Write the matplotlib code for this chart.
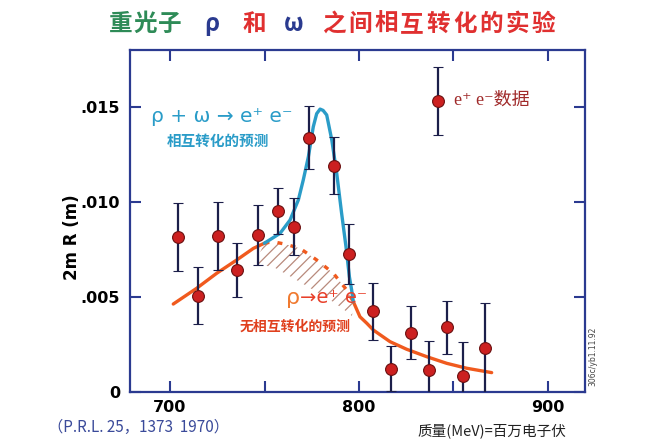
import matplotlib
matplotlib.use("Agg")
import matplotlib.pyplot as plt

plt.rcParams['font.family'] = ['DejaVu Sans', 'Noto Sans CJK SC']
plt.rcParams['hatch.linewidth'] = 0.9

# e+ e- data points: mass (MeV), 2m R (m), error
mass = [704.2, 714.6, 725.2, 735.6, 746.7, 757.3, 765.8, 773.5, 786.6, 794.5,
        807.6, 816.8, 827.5, 836.9, 846.7, 855.0, 866.5]
ratio = [0.00816, 0.00507, 0.00821, 0.00642, 0.00826, 0.00953, 0.00870, 0.01338,
         0.01191, 0.00726, 0.00426, 0.00123, 0.00312, 0.00116, 0.00340, 0.00083, 0.00230]
err = [0.0018, 0.0015, 0.0018, 0.0014, 0.0016, 0.0012, 0.0015, 0.00165, 0.0015,
       0.0016, 0.0015, 0.0012, 0.0014, 0.0015, 0.0014, 0.0018, 0.0024]

# rho -> e+ e- prediction (no mixing)
rho_left_x = [701.7, 714.1, 724.7, 735.3, 744.1, 749.9]
rho_left_y = [0.00463, 0.00546, 0.00625, 0.00695, 0.00756, 0.00783]
rho_mid_x = [749.9, 754.5, 761.0, 768.8, 777.6, 786.4, 793.5, 797.0]
rho_mid_y = [0.00783, 0.00791, 0.00778, 0.00756, 0.00695, 0.00625, 0.00537, 0.00475]
rho_right_x = [797.0, 800.5, 804.1, 807.6, 816.4, 825.2, 835.8, 846.4, 857.0, 870.2]
rho_right_y = [0.00475, 0.00396, 0.00362, 0.00326, 0.00265, 0.00225, 0.00186, 0.00151,
               0.00125, 0.00102]

# lower edge of the hatched band
band_low_x = [745.0, 755.6, 765.1, 777.8, 787.3, 793.7, 796.3]
band_low_y = [0.00679, 0.00653, 0.00600, 0.00526, 0.00468, 0.00421, 0.00400]

# rho + omega interference prediction
mix_x = [749.9, 758.2, 763.5, 767.9, 770.5, 773.2, 775.8, 777.6, 779.4, 781.0, 782.9,
         785.6, 788.2, 790.8, 793.1, 794.9, 796.1, 797.0]
mix_y = [0.00783, 0.00835, 0.00905, 0.01011, 0.01116, 0.01238, 0.01396, 0.01465,
         0.01489, 0.01482, 0.01458, 0.01326, 0.01151, 0.00940, 0.00765, 0.00607,
         0.00537, 0.00475]

legend_pt = (842.0, 0.01532, 0.0018)

xticks = [700, 750, 800, 850, 900]
xlabels = ['700', '', '800', '', '900']
yticks = [0, 0.005, 0.010, 0.015]
ylabels = ['0', '.005', '.010', '.015']

W, H = 654, 445
fig = plt.figure(figsize=(W / 100, H / 100), dpi=100)
ax = fig.add_axes([130 / W, 1 - 392 / H, 455 / W, 342 / H])

axis_col = '#2b3a90'
orange = '#f05a1e'
blue = '#2a9cc8'

# hatched band between no-mixing curve and shifted edge
poly_x = rho_mid_x + band_low_x[::-1]
poly_y = rho_mid_y + band_low_y[::-1]
ax.fill(poly_x, poly_y, facecolor='none', edgecolor='#b88a7c', hatch='///', linewidth=0)

ax.plot(rho_left_x, rho_left_y, color=orange, lw=2.4, solid_capstyle='round')
ax.plot(rho_mid_x, rho_mid_y, color=orange, lw=2.4, linestyle=(0, (1.5, 2.5)))
ax.plot(rho_right_x, rho_right_y, color=orange, lw=2.4, solid_capstyle='round')
ax.plot(mix_x, mix_y, color=blue, lw=2.4, solid_capstyle='round')

ax.errorbar(mass, ratio, yerr=err, fmt='o', color='#1c1f4a', ecolor='#1c1f4a',
            elinewidth=1.6, capsize=3.3, capthick=1.6, markersize=8.5,
            markerfacecolor='#cc2020', markeredgecolor='#6a1010', markeredgewidth=0.8,
            zorder=5)
ax.errorbar([legend_pt[0]], [legend_pt[1]], yerr=[legend_pt[2]], fmt='o', color='#1c1f4a',
            elinewidth=1.6, capsize=3.3, capthick=1.6, markersize=8.5,
            markerfacecolor='#cc2020', markeredgecolor='#6a1010', markeredgewidth=0.8,
            zorder=5)

ax.set_xlim(678.8, 919.6)
ax.set_ylim(0, 0.018)
ax.set_xticks(xticks)
ax.set_xticklabels(xlabels)
ax.set_yticks(yticks)
ax.set_yticklabels(ylabels)
ax.tick_params(axis='both', direction='in', length=8, width=1.5, color=axis_col,
               labelsize=11.5, top=True, right=True)
ax.tick_params(axis='y', pad=7)
ax.tick_params(axis='x', pad=6)
for lab in ax.get_xticklabels() + ax.get_yticklabels():
    lab.set_fontweight('bold')
for sp in ax.spines.values():
    sp.set_color(axis_col)
    sp.set_linewidth(1.6)
ax.set_ylabel('2m R (m)', fontsize=12, fontweight='bold')
ax.yaxis.set_label_coords(-0.108, 0.453)

# annotations inside the plot
ax.text(0.046, 0.805, 'ρ + ω → e⁺ e⁻', transform=ax.transAxes, color=blue,
        fontsize=14.5, va='center')
ax.text(0.080, 0.735, '相互转化的预测', transform=ax.transAxes, color=blue,
        fontsize=10.5, fontweight='bold', va='center', family=['Noto Sans CJK SC'])
ax.text(0.343, 0.276, 'ρ', transform=ax.transAxes, color='#f07a30', fontsize=16, va='center')
ax.text(0.374, 0.276, '→e⁺ e⁻', transform=ax.transAxes, color='#e8402a', fontsize=14,
        va='center')
ax.text(0.240, 0.190, '无相互转化的预测', transform=ax.transAxes, color='#e0401e',
        fontsize=10, fontweight='bold', va='center', family=['Noto Sans CJK SC'])
ax.text(0.712, 0.852, 'e⁺ e⁻数据', transform=ax.transAxes, color='#a02a2a',
        fontsize=13, va='center',
        family=['Liberation Serif', 'DejaVu Serif', 'Noto Sans CJK SC'])

# title, one character at a time
title_chars = [('重', '#2e8b57', 120.5), ('光', '#2e8b57', 145), ('子', '#2e8b57', 169.5),
               ('ρ', '#2a3a8f', 212), ('和', '#e03030', 254), ('ω', '#2a3a8f', 294),
               ('之', '#e03030', 334), ('间', '#e03030', 360), ('相', '#e03030', 386),
               ('互', '#e03030', 412), ('转', '#e03030', 438), ('化', '#e03030', 465),
               ('的', '#e03030', 491), ('实', '#e03030', 517), ('验', '#e03030', 543)]
for ch, col, px in title_chars:
    fig.text(px / W, 1 - 31 / H, ch, color=col, fontsize=17, fontweight='bold',
             va='baseline', ha='center', family=['Noto Sans CJK SC', 'DejaVu Sans'])

fig.text(48 / W, 1 - 427 / H, '（P.R.L. 25，1373  1970）', color='#3a4a9a', fontsize=11,
         va='center', ha='left', family=['Noto Sans CJK SC'])
fig.text(417 / W, 1 - 431 / H, '质量(MeV)=百万电子伏', color='#222222', fontsize=10.5,
         va='center', ha='left', family=['Noto Sans CJK SC'])
fig.text(588 / W, 1 - 356 / H, '306c/yb1.11.92', color='#444444', fontsize=5.5,
         rotation=90, va='center', ha='left')

fig.savefig('out.png', dpi=100)
